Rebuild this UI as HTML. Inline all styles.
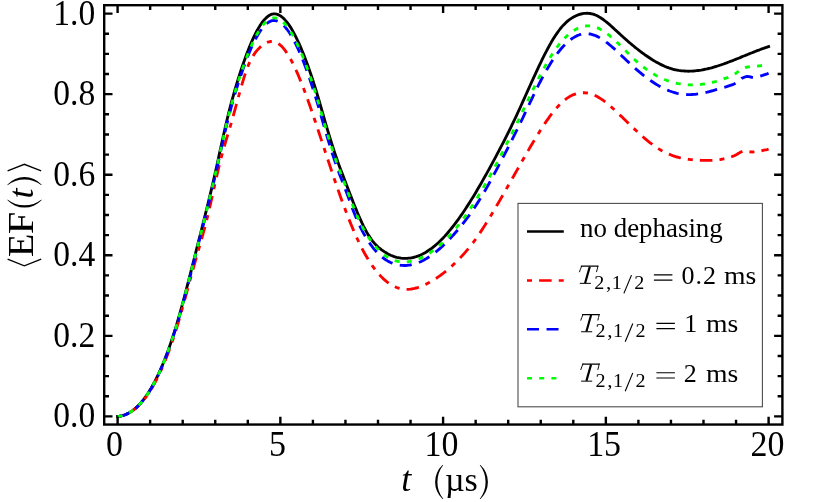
<!DOCTYPE html>
<html><head><meta charset="utf-8"><title>EF(t) dephasing plot</title>
<style>html,body{margin:0;padding:0;background:#fff;}svg{display:block;will-change:transform;}text{font-family:"Liberation Serif",serif;fill:#000;}</style></head>
<body>
<svg width="830" height="502" viewBox="0 0 830 502">
<rect x="0" y="0" width="830" height="502" fill="#fff"/>
<g fill="none" stroke-linejoin="round">
<path d="M117.6,416.4 L119.1,416.3 L120.6,416.0 L122.1,415.7 L123.6,415.3 L125.1,414.7 L126.6,414.1 L128.1,413.4 L129.6,412.5 L131.1,411.6 L132.6,410.6 L134.1,409.4 L135.6,408.1 L137.1,406.8 L138.6,405.3 L140.1,403.7 L141.6,402.0 L143.1,400.1 L144.6,398.2 L146.1,396.1 L147.6,393.9 L149.1,391.5 L150.6,389.1 L152.1,386.5 L153.6,383.8 L155.1,381.0 L156.6,378.0 L158.1,374.9 L159.6,371.6 L161.1,368.2 L162.6,364.7 L164.1,361.0 L165.6,357.2 L167.1,353.3 L168.6,349.2 L170.1,344.9 L171.6,340.5 L173.1,335.9 L174.6,331.2 L176.1,326.4 L177.6,321.4 L179.1,316.2 L180.6,310.9 L182.1,305.4 L183.6,299.9 L185.1,294.2 L186.6,288.4 L188.1,282.6 L189.6,276.8 L191.1,270.8 L192.6,264.9 L194.1,259.0 L195.6,253.1 L197.1,247.1 L198.6,241.2 L200.1,235.3 L201.6,229.4 L203.1,223.4 L204.6,217.4 L206.1,211.4 L207.6,205.3 L209.1,199.1 L210.6,192.8 L212.1,186.4 L213.6,180.0 L215.1,173.4 L216.6,166.7 L218.1,159.8 L219.6,152.9 L221.1,146.0 L222.6,139.2 L224.1,132.5 L225.6,125.9 L227.1,119.5 L228.6,113.3 L230.1,107.4 L231.6,101.7 L233.1,96.3 L234.6,91.0 L236.1,85.9 L237.6,80.9 L239.1,76.2 L240.6,71.5 L242.1,67.0 L243.6,62.6 L245.1,58.4 L246.6,54.3 L248.1,50.4 L249.6,46.6 L251.1,43.0 L252.6,39.6 L254.1,36.4 L255.6,33.4 L257.1,30.5 L258.6,27.9 L260.1,25.4 L261.6,23.2 L263.1,21.2 L264.6,19.4 L266.1,17.9 L267.6,16.6 L269.1,15.5 L270.6,14.7 L272.1,14.2 L273.6,13.9 L275.1,13.9 L276.6,14.2 L278.1,14.6 L279.6,15.4 L281.1,16.3 L282.6,17.5 L284.1,18.9 L285.6,20.6 L287.1,22.4 L288.6,24.4 L290.1,26.6 L291.6,29.1 L293.1,31.7 L294.6,34.4 L296.1,37.4 L297.6,40.5 L299.1,43.7 L300.6,47.1 L302.1,50.7 L303.6,54.4 L305.1,58.2 L306.6,62.2 L308.1,66.3 L309.6,70.6 L311.1,75.0 L312.6,79.5 L314.1,84.2 L315.6,89.0 L317.1,93.9 L318.6,99.0 L320.1,104.2 L321.6,109.4 L323.1,114.7 L324.6,119.9 L326.1,125.1 L327.6,130.1 L329.1,135.1 L330.6,140.0 L332.1,144.8 L333.6,149.4 L335.1,153.9 L336.6,158.3 L338.1,162.6 L339.6,166.7 L341.1,170.7 L342.6,174.6 L344.1,178.5 L345.6,182.4 L347.1,186.4 L348.6,190.3 L350.1,194.2 L351.6,198.1 L353.1,201.9 L354.6,205.7 L356.1,209.4 L357.6,213.0 L359.1,216.5 L360.6,219.9 L362.1,223.2 L363.6,226.3 L365.1,229.2 L366.6,232.0 L368.1,234.6 L369.6,236.9 L371.1,239.1 L372.6,241.1 L374.1,242.9 L375.6,244.6 L377.1,246.1 L378.6,247.5 L380.1,248.7 L381.6,249.9 L383.1,250.9 L384.6,251.9 L386.1,252.8 L387.6,253.7 L389.1,254.5 L390.6,255.2 L392.1,255.8 L393.6,256.4 L395.1,256.9 L396.6,257.3 L398.1,257.6 L399.6,257.9 L401.1,258.2 L402.6,258.3 L404.1,258.4 L405.6,258.4 L407.1,258.4 L408.6,258.2 L410.1,258.1 L411.6,257.8 L413.1,257.5 L414.6,257.1 L416.1,256.7 L417.6,256.2 L419.1,255.6 L420.6,255.0 L422.1,254.3 L423.6,253.5 L425.1,252.7 L426.6,251.8 L428.1,250.8 L429.6,249.8 L431.1,248.8 L432.6,247.6 L434.1,246.4 L435.6,245.2 L437.1,243.8 L438.6,242.5 L440.1,241.0 L441.6,239.5 L443.1,238.0 L444.6,236.4 L446.1,234.7 L447.6,233.0 L449.1,231.2 L450.6,229.4 L452.1,227.5 L453.6,225.6 L455.1,223.7 L456.6,221.6 L458.1,219.6 L459.6,217.5 L461.1,215.4 L462.6,213.2 L464.1,211.0 L465.6,208.7 L467.1,206.4 L468.6,204.1 L470.1,201.7 L471.6,199.3 L473.1,196.9 L474.6,194.4 L476.1,191.9 L477.6,189.3 L479.1,186.8 L480.6,184.2 L482.1,181.6 L483.6,178.9 L485.1,176.3 L486.6,173.6 L488.1,170.9 L489.6,168.2 L491.1,165.4 L492.6,162.6 L494.1,159.9 L495.6,157.1 L497.1,154.2 L498.6,151.4 L500.1,148.5 L501.6,145.7 L503.1,142.8 L504.6,139.8 L506.1,136.9 L507.6,133.9 L509.1,130.9 L510.6,127.8 L512.1,124.7 L513.6,121.6 L515.1,118.5 L516.6,115.3 L518.1,112.0 L519.6,108.8 L521.1,105.5 L522.6,102.2 L524.1,98.8 L525.6,95.5 L527.1,92.2 L528.6,88.8 L530.1,85.5 L531.6,82.2 L533.1,78.9 L534.6,75.6 L536.1,72.3 L537.6,69.1 L539.1,65.9 L540.6,62.8 L542.1,59.7 L543.6,56.7 L545.1,53.7 L546.6,50.8 L548.1,48.0 L549.6,45.3 L551.1,42.6 L552.6,40.1 L554.1,37.6 L555.6,35.3 L557.1,33.1 L558.6,31.0 L560.1,29.0 L561.6,27.1 L563.1,25.4 L564.6,23.9 L566.1,22.4 L567.6,21.1 L569.1,19.9 L570.6,18.9 L572.1,17.9 L573.6,17.0 L575.1,16.2 L576.6,15.5 L578.1,14.9 L579.6,14.4 L581.1,14.0 L582.6,13.6 L584.1,13.4 L585.6,13.3 L587.1,13.2 L588.6,13.3 L590.1,13.5 L591.6,13.8 L593.1,14.2 L594.6,14.7 L596.1,15.3 L597.6,16.0 L599.1,16.9 L600.6,17.8 L602.1,18.8 L603.6,19.8 L605.1,21.0 L606.6,22.2 L608.1,23.4 L609.6,24.7 L611.1,26.0 L612.6,27.4 L614.1,28.8 L615.6,30.2 L617.1,31.5 L618.6,32.9 L620.1,34.3 L621.6,35.7 L623.1,37.0 L624.6,38.3 L626.1,39.7 L627.6,41.0 L629.1,42.3 L630.6,43.5 L632.1,44.8 L633.6,46.0 L635.1,47.3 L636.6,48.5 L638.1,49.7 L639.6,50.8 L641.1,52.0 L642.6,53.1 L644.1,54.2 L645.6,55.3 L647.1,56.3 L648.6,57.3 L650.1,58.3 L651.6,59.3 L653.1,60.2 L654.6,61.1 L656.1,62.0 L657.6,62.8 L659.1,63.6 L660.6,64.4 L662.1,65.1 L663.6,65.8 L665.1,66.5 L666.6,67.1 L668.1,67.6 L669.6,68.2 L671.1,68.6 L672.6,69.1 L674.1,69.5 L675.6,69.8 L677.1,70.1 L678.6,70.4 L680.1,70.6 L681.6,70.8 L683.1,70.9 L684.6,71.0 L686.1,71.1 L687.6,71.2 L689.1,71.2 L690.6,71.1 L692.1,71.1 L693.6,71.0 L695.1,70.9 L696.6,70.7 L698.1,70.5 L699.6,70.3 L701.1,70.1 L702.6,69.8 L704.1,69.5 L705.6,69.2 L707.1,68.9 L708.6,68.5 L710.1,68.2 L711.6,67.8 L713.1,67.3 L714.6,66.9 L716.1,66.5 L717.6,66.0 L719.1,65.5 L720.6,65.0 L722.1,64.5 L723.6,64.0 L725.1,63.4 L726.6,62.9 L728.1,62.3 L729.6,61.7 L731.1,61.2 L732.6,60.6 L734.1,60.0 L735.6,59.4 L737.1,58.8 L738.6,58.2 L740.1,57.6 L741.6,56.9 L743.1,56.3 L744.6,55.7 L746.1,55.1 L747.6,54.5 L749.1,53.9 L750.6,53.3 L752.1,52.7 L753.6,52.1 L755.1,51.5 L756.6,50.9 L758.1,50.3 L759.6,49.8 L761.1,49.2 L762.6,48.7 L764.1,48.1 L765.6,47.6 L767.1,47.1 L768.6,46.6" stroke="#000" stroke-width="2.85" stroke-linecap="square"/>
<path d="M117.6,416.4 L119.1,416.3 L120.6,416.1 L122.1,415.7 L123.6,415.2 L125.1,414.7 L126.6,414.1 L128.1,413.4 L129.6,412.5 L131.1,411.6 L132.6,410.6 L134.1,409.5 L135.6,408.3 L137.1,407.0 L138.6,405.6 L140.1,404.0 L141.6,402.4 L143.1,400.7 L144.6,398.8 L146.1,396.8 L147.6,394.7 L149.1,392.5 L150.6,390.2 L152.1,387.7 L153.6,385.1 L155.1,382.4 L156.6,379.5 L158.1,376.5 L159.6,373.4 L161.1,370.2 L162.6,366.8 L164.1,363.2 L165.6,359.6 L167.1,355.7 L168.6,351.8 L170.1,347.7 L171.6,343.4 L173.1,339.0 L174.6,334.4 L176.1,329.7 L177.6,324.8 L179.1,319.7 L180.6,314.5 L182.1,309.2 L183.6,303.8 L185.1,298.3 L186.6,292.8 L188.1,287.2 L189.6,281.7 L191.1,276.2 L192.6,270.7 L194.1,265.3 L195.6,260.0 L197.1,254.7 L198.6,249.5 L200.1,244.3 L201.6,239.0 L203.1,233.7 L204.6,228.1 L206.1,222.3 L207.6,216.3 L209.1,209.9 L210.6,203.4 L212.1,196.8 L213.6,190.0 L215.1,183.3 L216.6,176.7 L218.1,170.2 L219.6,164.0 L221.1,158.0 L222.6,152.4 L224.1,147.0 L225.6,141.9 L227.1,136.8 L228.6,131.9 L230.1,126.8 L231.6,121.7 L233.1,116.4 L234.6,111.0 L236.1,105.5 L237.6,100.0 L239.1,94.5 L240.6,89.0 L242.1,83.8 L243.6,78.8 L245.1,74.1 L246.6,69.8 L248.1,65.9 L249.6,62.4 L251.1,59.4 L252.6,56.7 L254.1,54.3 L255.6,52.2 L257.1,50.4 L258.6,48.7 L260.1,47.2 L261.6,45.9 L263.1,44.7 L264.6,43.7 L266.1,42.9 L267.6,42.2 L269.1,41.8 L270.6,41.5 L272.1,41.4 L273.6,41.6 L275.1,42.0 L276.6,42.6 L278.1,43.4 L279.6,44.5 L281.1,45.8 L282.6,47.3 L284.1,49.1 L285.6,51.1 L287.1,53.3 L288.6,55.7 L290.1,58.3 L291.6,61.0 L293.1,64.0 L294.6,67.1 L296.1,70.3 L297.6,73.7 L299.1,77.2 L300.6,80.9 L302.1,84.6 L303.6,88.5 L305.1,92.5 L306.6,96.5 L308.1,100.7 L309.6,104.9 L311.1,109.2 L312.6,113.6 L314.1,118.0 L315.6,122.5 L317.1,127.0 L318.6,131.5 L320.1,136.1 L321.6,140.6 L323.1,145.2 L324.6,149.8 L326.1,154.4 L327.6,158.9 L329.1,163.4 L330.6,167.9 L332.1,172.4 L333.6,176.9 L335.1,181.3 L336.6,185.6 L338.1,189.9 L339.6,194.2 L341.1,198.4 L342.6,202.5 L344.1,206.6 L345.6,210.6 L347.1,214.5 L348.6,218.4 L350.1,222.1 L351.6,225.8 L353.1,229.4 L354.6,232.8 L356.1,236.2 L357.6,239.5 L359.1,242.7 L360.6,245.7 L362.1,248.6 L363.6,251.5 L365.1,254.2 L366.6,256.8 L368.1,259.3 L369.6,261.7 L371.1,264.0 L372.6,266.2 L374.1,268.2 L375.6,270.2 L377.1,272.1 L378.6,273.9 L380.1,275.5 L381.6,277.1 L383.1,278.6 L384.6,279.9 L386.1,281.2 L387.6,282.4 L389.1,283.5 L390.6,284.4 L392.1,285.3 L393.6,286.1 L395.1,286.8 L396.6,287.5 L398.1,288.0 L399.6,288.4 L401.1,288.8 L402.6,289.0 L404.1,289.2 L405.6,289.3 L407.1,289.3 L408.6,289.3 L410.1,289.2 L411.6,289.0 L413.1,288.7 L414.6,288.4 L416.1,288.0 L417.6,287.6 L419.1,287.1 L420.6,286.5 L422.1,285.9 L423.6,285.3 L425.1,284.6 L426.6,283.9 L428.1,283.1 L429.6,282.3 L431.1,281.4 L432.6,280.5 L434.1,279.6 L435.6,278.7 L437.1,277.7 L438.6,276.6 L440.1,275.6 L441.6,274.5 L443.1,273.3 L444.6,272.2 L446.1,271.0 L447.6,269.7 L449.1,268.4 L450.6,267.1 L452.1,265.8 L453.6,264.4 L455.1,263.0 L456.6,261.5 L458.1,260.0 L459.6,258.5 L461.1,256.9 L462.6,255.3 L464.1,253.6 L465.6,251.9 L467.1,250.1 L468.6,248.3 L470.1,246.5 L471.6,244.5 L473.1,242.6 L474.6,240.6 L476.1,238.5 L477.6,236.3 L479.1,234.2 L480.6,231.9 L482.1,229.6 L483.6,227.3 L485.1,224.9 L486.6,222.5 L488.1,220.1 L489.6,217.6 L491.1,215.2 L492.6,212.7 L494.1,210.1 L495.6,207.6 L497.1,205.0 L498.6,202.5 L500.1,199.9 L501.6,197.3 L503.1,194.7 L504.6,192.0 L506.1,189.4 L507.6,186.8 L509.1,184.1 L510.6,181.5 L512.1,178.8 L513.6,176.2 L515.1,173.5 L516.6,170.9 L518.1,168.2 L519.6,165.6 L521.1,162.9 L522.6,160.3 L524.1,157.7 L525.6,155.1 L527.1,152.5 L528.6,149.9 L530.1,147.3 L531.6,144.8 L533.1,142.2 L534.6,139.7 L536.1,137.3 L537.6,134.8 L539.1,132.4 L540.6,130.0 L542.1,127.7 L543.6,125.4 L545.1,123.1 L546.6,120.9 L548.1,118.8 L549.6,116.7 L551.1,114.7 L552.6,112.8 L554.1,110.9 L555.6,109.1 L557.1,107.4 L558.6,105.7 L560.1,104.2 L561.6,102.7 L563.1,101.4 L564.6,100.1 L566.1,98.9 L567.6,97.9 L569.1,96.9 L570.6,96.0 L572.1,95.3 L573.6,94.6 L575.1,94.1 L576.6,93.6 L578.1,93.2 L579.6,93.0 L581.1,92.8 L582.6,92.7 L584.1,92.7 L585.6,92.8 L587.1,93.0 L588.6,93.3 L590.1,93.7 L591.6,94.1 L593.1,94.7 L594.6,95.3 L596.1,96.0 L597.6,96.8 L599.1,97.7 L600.6,98.6 L602.1,99.6 L603.6,100.7 L605.1,101.8 L606.6,103.0 L608.1,104.3 L609.6,105.5 L611.1,106.8 L612.6,108.2 L614.1,109.5 L615.6,110.9 L617.1,112.3 L618.6,113.8 L620.1,115.2 L621.6,116.6 L623.1,118.1 L624.6,119.5 L626.1,121.0 L627.6,122.4 L629.1,123.9 L630.6,125.3 L632.1,126.8 L633.6,128.2 L635.1,129.6 L636.6,131.0 L638.1,132.4 L639.6,133.8 L641.1,135.2 L642.6,136.5 L644.1,137.8 L645.6,139.1 L647.1,140.4 L648.6,141.6 L650.1,142.8 L651.6,143.9 L653.1,145.0 L654.6,146.1 L656.1,147.2 L657.6,148.2 L659.1,149.1 L660.6,150.0 L662.1,150.9 L663.6,151.7 L665.1,152.4 L666.6,153.1 L668.1,153.8 L669.6,154.4 L671.1,155.0 L672.6,155.6 L674.1,156.1 L675.6,156.6 L677.1,157.0 L678.6,157.4 L680.1,157.8 L681.6,158.1 L683.1,158.4 L684.6,158.7 L686.1,158.9 L687.6,159.2 L689.1,159.4 L690.6,159.6 L692.1,159.7 L693.6,159.8 L695.1,160.0 L696.6,160.1 L698.1,160.1 L699.6,160.2 L701.1,160.3 L702.6,160.3 L704.1,160.3 L705.6,160.4 L707.1,160.4 L708.6,160.4 L710.1,160.3 L711.6,160.3 L713.1,160.2 L714.6,160.1 L716.1,160.0 L717.6,159.9 L719.1,159.7 L720.6,159.5 L722.1,159.2 L723.6,158.9 L725.1,158.6 L726.6,158.2 L728.1,157.8 L729.6,157.4 L731.1,156.9 L732.6,156.4 L734.1,155.8 L735.6,155.1 L737.1,154.2 L738.6,153.2 L740.1,152.4 L741.6,151.7 L743.1,151.1 L744.6,151.0 L746.1,151.2 L747.6,151.4 L749.1,151.7 L750.6,151.9 L752.1,152.0 L753.6,151.9 L755.1,151.8 L756.6,151.6 L758.1,151.3 L759.6,151.1 L761.1,150.8 L762.6,150.5 L764.1,150.2 L765.6,149.9 L767.1,149.6 L768.6,149.2" stroke="#ff0000" stroke-width="2.85" stroke-dasharray="5 7.1 12.55 7.1" stroke-dashoffset="-1.1"/>
<path d="M117.6,416.4 L119.1,416.3 L120.6,416.0 L122.1,415.7 L123.6,415.3 L125.1,414.8 L126.6,414.1 L128.1,413.4 L129.6,412.6 L131.1,411.7 L132.6,410.6 L134.1,409.5 L135.6,408.3 L137.1,406.9 L138.6,405.4 L140.1,403.8 L141.6,402.1 L143.1,400.3 L144.6,398.4 L146.1,396.3 L147.6,394.2 L149.1,391.9 L150.6,389.4 L152.1,386.9 L153.6,384.2 L155.1,381.4 L156.6,378.4 L158.1,375.3 L159.6,372.1 L161.1,368.7 L162.6,365.2 L164.1,361.6 L165.6,357.8 L167.1,353.9 L168.6,349.9 L170.1,345.7 L171.6,341.3 L173.1,336.8 L174.6,332.1 L176.1,327.3 L177.6,322.4 L179.1,317.3 L180.6,312.0 L182.1,306.6 L183.6,301.1 L185.1,295.5 L186.6,289.8 L188.1,284.1 L189.6,278.3 L191.1,272.4 L192.6,266.6 L194.1,260.7 L195.6,254.8 L197.1,249.0 L198.6,243.2 L200.1,237.3 L201.6,231.5 L203.1,225.6 L204.6,219.7 L206.1,213.7 L207.6,207.7 L209.1,201.6 L210.6,195.4 L212.1,189.1 L213.6,182.7 L215.1,176.2 L216.6,169.6 L218.1,162.9 L219.6,156.1 L221.1,149.3 L222.6,142.6 L224.1,135.9 L225.6,129.4 L227.1,123.2 L228.6,117.1 L230.1,111.3 L231.6,105.7 L233.1,100.3 L234.6,95.1 L236.1,90.1 L237.6,85.3 L239.1,80.6 L240.6,76.1 L242.1,71.7 L243.6,67.4 L245.1,63.3 L246.6,59.3 L248.1,55.5 L249.6,51.8 L251.1,48.3 L252.6,45.0 L254.1,41.9 L255.6,38.9 L257.1,36.2 L258.6,33.6 L260.1,31.3 L261.6,29.1 L263.1,27.2 L264.6,25.5 L266.1,24.1 L267.6,22.9 L269.1,21.9 L270.6,21.2 L272.1,20.7 L273.6,20.5 L275.1,20.6 L276.6,20.9 L278.1,21.4 L279.6,22.2 L281.1,23.2 L282.6,24.5 L284.1,25.9 L285.6,27.6 L287.1,29.5 L288.6,31.5 L290.1,33.8 L291.6,36.3 L293.1,38.9 L294.6,41.7 L296.1,44.7 L297.6,47.9 L299.1,51.2 L300.6,54.7 L302.1,58.3 L303.6,62.0 L305.1,65.9 L306.6,70.0 L308.1,74.2 L309.6,78.5 L311.1,83.0 L312.6,87.6 L314.1,92.3 L315.6,97.1 L317.1,102.1 L318.6,107.2 L320.1,112.4 L321.6,117.6 L323.1,122.9 L324.6,128.1 L326.1,133.2 L327.6,138.3 L329.1,143.2 L330.6,148.0 L332.1,152.8 L333.6,157.4 L335.1,161.8 L336.6,166.1 L338.1,170.3 L339.6,174.4 L341.1,178.3 L342.6,182.1 L344.1,186.0 L345.6,190.0 L347.1,194.0 L348.6,198.1 L350.1,202.2 L351.6,206.3 L353.1,210.2 L354.6,214.0 L356.1,217.7 L357.6,221.2 L359.1,224.5 L360.6,227.7 L362.1,230.6 L363.6,233.4 L365.1,236.0 L366.6,238.5 L368.1,240.9 L369.6,243.1 L371.1,245.2 L372.6,247.2 L374.1,249.1 L375.6,250.8 L377.1,252.5 L378.6,254.0 L380.1,255.4 L381.6,256.7 L383.1,257.9 L384.6,259.0 L386.1,260.0 L387.6,260.9 L389.1,261.7 L390.6,262.5 L392.1,263.1 L393.6,263.7 L395.1,264.2 L396.6,264.6 L398.1,264.9 L399.6,265.1 L401.1,265.3 L402.6,265.4 L404.1,265.5 L405.6,265.5 L407.1,265.4 L408.6,265.2 L410.1,265.0 L411.6,264.7 L413.1,264.3 L414.6,263.9 L416.1,263.4 L417.6,262.9 L419.1,262.3 L420.6,261.7 L422.1,260.9 L423.6,260.2 L425.1,259.3 L426.6,258.5 L428.1,257.5 L429.6,256.6 L431.1,255.5 L432.6,254.4 L434.1,253.3 L435.6,252.1 L437.1,250.9 L438.6,249.6 L440.1,248.3 L441.6,247.0 L443.1,245.6 L444.6,244.1 L446.1,242.7 L447.6,241.1 L449.1,239.6 L450.6,238.0 L452.1,236.4 L453.6,234.7 L455.1,233.0 L456.6,231.3 L458.1,229.5 L459.6,227.7 L461.1,225.9 L462.6,224.0 L464.1,222.1 L465.6,220.1 L467.1,218.1 L468.6,216.1 L470.1,214.0 L471.6,211.9 L473.1,209.7 L474.6,207.5 L476.1,205.2 L477.6,202.9 L479.1,200.5 L480.6,198.1 L482.1,195.6 L483.6,193.1 L485.1,190.5 L486.6,187.9 L488.1,185.2 L489.6,182.5 L491.1,179.8 L492.6,177.0 L494.1,174.2 L495.6,171.4 L497.1,168.6 L498.6,165.7 L500.1,162.9 L501.6,160.0 L503.1,157.1 L504.6,154.3 L506.1,151.4 L507.6,148.5 L509.1,145.5 L510.6,142.6 L512.1,139.6 L513.6,136.7 L515.1,133.7 L516.6,130.6 L518.1,127.6 L519.6,124.5 L521.1,121.4 L522.6,118.3 L524.1,115.2 L525.6,112.0 L527.1,108.9 L528.6,105.7 L530.1,102.5 L531.6,99.3 L533.1,96.2 L534.6,93.0 L536.1,89.9 L537.6,86.9 L539.1,83.9 L540.6,81.0 L542.1,78.1 L543.6,75.3 L545.1,72.6 L546.6,69.9 L548.1,67.4 L549.6,64.9 L551.1,62.5 L552.6,60.2 L554.1,58.0 L555.6,55.8 L557.1,53.8 L558.6,51.8 L560.1,50.0 L561.6,48.2 L563.1,46.5 L564.6,45.0 L566.1,43.5 L567.6,42.1 L569.1,40.8 L570.6,39.6 L572.1,38.5 L573.6,37.6 L575.1,36.7 L576.6,35.9 L578.1,35.3 L579.6,34.7 L581.1,34.3 L582.6,33.9 L584.1,33.7 L585.6,33.6 L587.1,33.6 L588.6,33.8 L590.1,34.0 L591.6,34.3 L593.1,34.8 L594.6,35.3 L596.1,35.9 L597.6,36.6 L599.1,37.4 L600.6,38.3 L602.1,39.2 L603.6,40.2 L605.1,41.2 L606.6,42.4 L608.1,43.5 L609.6,44.8 L611.1,46.0 L612.6,47.3 L614.1,48.6 L615.6,50.0 L617.1,51.4 L618.6,52.8 L620.1,54.2 L621.6,55.7 L623.1,57.1 L624.6,58.5 L626.1,60.0 L627.6,61.4 L629.1,62.8 L630.6,64.2 L632.1,65.6 L633.6,67.0 L635.1,68.3 L636.6,69.6 L638.1,70.9 L639.6,72.2 L641.1,73.4 L642.6,74.6 L644.1,75.8 L645.6,77.0 L647.1,78.1 L648.6,79.2 L650.1,80.3 L651.6,81.3 L653.1,82.3 L654.6,83.3 L656.1,84.2 L657.6,85.1 L659.1,86.0 L660.6,86.8 L662.1,87.6 L663.6,88.4 L665.1,89.1 L666.6,89.8 L668.1,90.4 L669.6,91.0 L671.1,91.5 L672.6,92.0 L674.1,92.5 L675.6,92.9 L677.1,93.3 L678.6,93.6 L680.1,93.9 L681.6,94.1 L683.1,94.3 L684.6,94.4 L686.1,94.5 L687.6,94.6 L689.1,94.6 L690.6,94.6 L692.1,94.5 L693.6,94.4 L695.1,94.3 L696.6,94.1 L698.1,93.9 L699.6,93.7 L701.1,93.4 L702.6,93.1 L704.1,92.8 L705.6,92.5 L707.1,92.2 L708.6,91.8 L710.1,91.4 L711.6,91.0 L713.1,90.6 L714.6,90.2 L716.1,89.7 L717.6,89.3 L719.1,88.8 L720.6,88.4 L722.1,87.9 L723.6,87.5 L725.1,87.1 L726.6,86.7 L728.1,86.2 L729.6,85.7 L731.1,85.2 L732.6,84.7 L734.1,84.0 L735.6,83.1 L737.1,82.1 L738.6,81.0 L740.1,79.6 L741.6,78.4 L743.1,77.7 L744.6,77.1 L746.1,76.7 L747.6,76.5 L749.1,76.7 L750.6,77.0 L752.1,77.4 L753.6,77.6 L755.1,77.5 L756.6,77.2 L758.1,76.8 L759.6,76.3 L761.1,75.8 L762.6,75.4 L764.1,74.9 L765.6,74.4 L767.1,73.9 L768.6,73.3" stroke="#0000ff" stroke-width="2.85" stroke-dasharray="12 7.53" stroke-dashoffset="-0.4"/>
<path d="M117.6,416.4 L119.1,416.3 L120.6,416.0 L122.1,415.7 L123.6,415.3 L125.1,414.7 L126.6,414.1 L128.1,413.4 L129.6,412.6 L131.1,411.6 L132.6,410.6 L134.1,409.5 L135.6,408.2 L137.1,406.8 L138.6,405.4 L140.1,403.8 L141.6,402.1 L143.1,400.2 L144.6,398.3 L146.1,396.2 L147.6,394.0 L149.1,391.7 L150.6,389.3 L152.1,386.7 L153.6,384.0 L155.1,381.2 L156.6,378.2 L158.1,375.1 L159.6,371.9 L161.1,368.5 L162.6,365.0 L164.1,361.4 L165.6,357.6 L167.1,353.7 L168.6,349.6 L170.1,345.4 L171.6,341.0 L173.1,336.5 L174.6,331.8 L176.1,327.0 L177.6,322.0 L179.1,316.8 L180.6,311.5 L182.1,306.1 L183.6,300.6 L185.1,295.0 L186.6,289.3 L188.1,283.5 L189.6,277.7 L191.1,271.8 L192.6,265.9 L194.1,260.0 L195.6,254.1 L197.1,248.3 L198.6,242.4 L200.1,236.5 L201.6,230.6 L203.1,224.7 L204.6,218.8 L206.1,212.8 L207.6,206.7 L209.1,200.6 L210.6,194.4 L212.1,188.1 L213.6,181.7 L215.1,175.1 L216.6,168.5 L218.1,161.7 L219.6,154.9 L221.1,148.1 L222.6,141.3 L224.1,134.6 L225.6,128.1 L227.1,121.8 L228.6,115.7 L230.1,109.8 L231.6,104.2 L233.1,98.8 L234.6,93.6 L236.1,88.5 L237.6,83.7 L239.1,78.9 L240.6,74.4 L242.1,69.9 L243.6,65.6 L245.1,61.4 L246.6,57.4 L248.1,53.6 L249.6,49.9 L251.1,46.3 L252.6,43.0 L254.1,39.8 L255.6,36.8 L257.1,34.0 L258.6,31.4 L260.1,29.0 L261.6,26.9 L263.1,24.9 L264.6,23.2 L266.1,21.7 L267.6,20.4 L269.1,19.4 L270.6,18.7 L272.1,18.2 L273.6,17.9 L275.1,17.9 L276.6,18.2 L278.1,18.7 L279.6,19.5 L281.1,20.5 L282.6,21.7 L284.1,23.1 L285.6,24.7 L287.1,26.6 L288.6,28.6 L290.1,30.9 L291.6,33.3 L293.1,35.9 L294.6,38.7 L296.1,41.7 L297.6,44.8 L299.1,48.0 L300.6,51.4 L302.1,55.0 L303.6,58.7 L305.1,62.5 L306.6,66.5 L308.1,70.6 L309.6,74.9 L311.1,79.3 L312.6,83.8 L314.1,88.4 L315.6,93.2 L317.1,98.2 L318.6,103.2 L320.1,108.4 L321.6,113.6 L323.1,118.9 L324.6,124.1 L326.1,129.2 L327.6,134.2 L329.1,139.2 L330.6,144.0 L332.1,148.7 L333.6,153.3 L335.1,157.8 L336.6,162.2 L338.1,166.4 L339.6,170.4 L341.1,174.4 L342.6,178.3 L344.1,182.1 L345.6,186.1 L347.1,190.1 L348.6,194.1 L350.1,198.2 L351.6,202.2 L353.1,206.1 L354.6,209.8 L356.1,213.5 L357.6,217.0 L359.1,220.3 L360.6,223.4 L362.1,226.3 L363.6,229.1 L365.1,231.7 L366.6,234.3 L368.1,236.6 L369.6,238.9 L371.1,241.1 L372.6,243.1 L374.1,245.0 L375.6,246.8 L377.1,248.4 L378.6,250.0 L380.1,251.5 L381.6,252.8 L383.1,254.1 L384.6,255.2 L386.1,256.2 L387.6,257.2 L389.1,258.0 L390.6,258.8 L392.1,259.5 L393.6,260.1 L395.1,260.6 L396.6,261.0 L398.1,261.3 L399.6,261.6 L401.1,261.7 L402.6,261.8 L404.1,261.9 L405.6,261.9 L407.1,261.8 L408.6,261.6 L410.1,261.4 L411.6,261.1 L413.1,260.7 L414.6,260.3 L416.1,259.8 L417.6,259.3 L419.1,258.7 L420.6,258.1 L422.1,257.4 L423.6,256.6 L425.1,255.8 L426.6,254.9 L428.1,254.0 L429.6,253.0 L431.1,252.0 L432.6,250.9 L434.1,249.8 L435.6,248.6 L437.1,247.4 L438.6,246.2 L440.1,244.9 L441.6,243.5 L443.1,242.1 L444.6,240.7 L446.1,239.2 L447.6,237.6 L449.1,236.1 L450.6,234.4 L452.1,232.8 L453.6,231.0 L455.1,229.3 L456.6,227.5 L458.1,225.6 L459.6,223.7 L461.1,221.7 L462.6,219.7 L464.1,217.6 L465.6,215.5 L467.1,213.4 L468.6,211.2 L470.1,209.0 L471.6,206.7 L473.1,204.4 L474.6,202.0 L476.1,199.6 L477.6,197.2 L479.1,194.7 L480.6,192.2 L482.1,189.7 L483.6,187.1 L485.1,184.5 L486.6,181.8 L488.1,179.2 L489.6,176.5 L491.1,173.8 L492.6,171.0 L494.1,168.2 L495.6,165.4 L497.1,162.6 L498.6,159.7 L500.1,156.8 L501.6,153.9 L503.1,151.0 L504.6,148.1 L506.1,145.1 L507.6,142.1 L509.1,139.1 L510.6,136.1 L512.1,133.1 L513.6,130.0 L515.1,127.0 L516.6,123.9 L518.1,120.8 L519.6,117.7 L521.1,114.6 L522.6,111.4 L524.1,108.3 L525.6,105.1 L527.1,102.0 L528.6,98.9 L530.1,95.7 L531.6,92.6 L533.1,89.5 L534.6,86.5 L536.1,83.4 L537.6,80.4 L539.1,77.5 L540.6,74.5 L542.1,71.7 L543.6,68.9 L545.1,66.1 L546.6,63.5 L548.1,60.9 L549.6,58.4 L551.1,56.0 L552.6,53.6 L554.1,51.4 L555.6,49.2 L557.1,47.2 L558.6,45.2 L560.1,43.3 L561.6,41.5 L563.1,39.8 L564.6,38.2 L566.1,36.7 L567.6,35.3 L569.1,34.0 L570.6,32.8 L572.1,31.6 L573.6,30.6 L575.1,29.7 L576.6,28.9 L578.1,28.1 L579.6,27.5 L581.1,27.0 L582.6,26.6 L584.1,26.2 L585.6,26.0 L587.1,25.9 L588.6,25.9 L590.1,25.9 L591.6,26.1 L593.1,26.4 L594.6,26.8 L596.1,27.3 L597.6,27.9 L599.1,28.6 L600.6,29.4 L602.1,30.3 L603.6,31.2 L605.1,32.2 L606.6,33.3 L608.1,34.5 L609.6,35.7 L611.1,36.9 L612.6,38.2 L614.1,39.6 L615.6,41.0 L617.1,42.4 L618.6,43.8 L620.1,45.3 L621.6,46.7 L623.1,48.2 L624.6,49.7 L626.1,51.2 L627.6,52.7 L629.1,54.2 L630.6,55.7 L632.1,57.2 L633.6,58.6 L635.1,60.0 L636.6,61.4 L638.1,62.7 L639.6,64.0 L641.1,65.2 L642.6,66.4 L644.1,67.6 L645.6,68.7 L647.1,69.8 L648.6,70.9 L650.1,71.9 L651.6,72.8 L653.1,73.7 L654.6,74.6 L656.1,75.5 L657.6,76.3 L659.1,77.0 L660.6,77.8 L662.1,78.5 L663.6,79.1 L665.1,79.7 L666.6,80.3 L668.1,80.8 L669.6,81.4 L671.1,81.8 L672.6,82.3 L674.1,82.7 L675.6,83.0 L677.1,83.4 L678.6,83.7 L680.1,83.9 L681.6,84.2 L683.1,84.4 L684.6,84.6 L686.1,84.7 L687.6,84.8 L689.1,84.9 L690.6,84.9 L692.1,84.9 L693.6,84.9 L695.1,84.9 L696.6,84.8 L698.1,84.7 L699.6,84.6 L701.1,84.4 L702.6,84.2 L704.1,84.0 L705.6,83.8 L707.1,83.5 L708.6,83.2 L710.1,82.9 L711.6,82.6 L713.1,82.2 L714.6,81.8 L716.1,81.4 L717.6,80.9 L719.1,80.5 L720.6,80.0 L722.1,79.4 L723.6,78.8 L725.1,78.3 L726.6,77.9 L728.1,77.4 L729.6,76.7 L731.1,76.1 L732.6,75.3 L734.1,74.4 L735.6,73.5 L737.1,72.4 L738.6,71.2 L740.1,69.9 L741.6,69.0 L743.1,68.3 L744.6,67.7 L746.1,67.3 L747.6,67.0 L749.1,66.8 L750.6,66.7 L752.1,66.6 L753.6,66.4 L755.1,66.3 L756.6,66.1 L758.1,66.0 L759.6,65.8 L761.1,65.6 L762.6,65.4 L764.1,65.1 L765.6,64.8 L767.1,64.5 L768.6,64.2" stroke="#00ff00" stroke-width="2.85" stroke-dasharray="5 7.19" stroke-dashoffset="0.0"/>
</g>
<g stroke="#000" stroke-width="2.4" fill="none">
<rect x="104.2" y="5.2" width="678.20" height="419.35"/>
<path d="M117.60,424.55v-7.7M117.60,5.2v7.7M150.15,424.55v-4.8M150.15,5.2v4.8M182.70,424.55v-4.8M182.70,5.2v4.8M215.25,424.55v-4.8M215.25,5.2v4.8M247.80,424.55v-4.8M247.80,5.2v4.8M280.35,424.55v-7.7M280.35,5.2v7.7M312.90,424.55v-4.8M312.90,5.2v4.8M345.45,424.55v-4.8M345.45,5.2v4.8M378.00,424.55v-4.8M378.00,5.2v4.8M410.55,424.55v-4.8M410.55,5.2v4.8M443.10,424.55v-7.7M443.10,5.2v7.7M475.65,424.55v-4.8M475.65,5.2v4.8M508.20,424.55v-4.8M508.20,5.2v4.8M540.75,424.55v-4.8M540.75,5.2v4.8M573.30,424.55v-4.8M573.30,5.2v4.8M605.85,424.55v-7.7M605.85,5.2v7.7M638.40,424.55v-4.8M638.40,5.2v4.8M670.95,424.55v-4.8M670.95,5.2v4.8M703.50,424.55v-4.8M703.50,5.2v4.8M736.05,424.55v-4.8M736.05,5.2v4.8M768.60,424.55v-7.7M768.60,5.2v7.7M104.2,416.40h8.3M782.4,416.40h-8.3M104.2,396.26h4.8M782.4,396.26h-4.8M104.2,376.12h4.8M782.4,376.12h-4.8M104.2,355.98h4.8M782.4,355.98h-4.8M104.2,335.84h8.3M782.4,335.84h-8.3M104.2,315.70h4.8M782.4,315.70h-4.8M104.2,295.56h4.8M782.4,295.56h-4.8M104.2,275.42h4.8M782.4,275.42h-4.8M104.2,255.28h8.3M782.4,255.28h-8.3M104.2,235.14h4.8M782.4,235.14h-4.8M104.2,215.00h4.8M782.4,215.00h-4.8M104.2,194.86h4.8M782.4,194.86h-4.8M104.2,174.72h8.3M782.4,174.72h-8.3M104.2,154.58h4.8M782.4,154.58h-4.8M104.2,134.44h4.8M782.4,134.44h-4.8M104.2,114.30h4.8M782.4,114.30h-4.8M104.2,94.16h8.3M782.4,94.16h-8.3M104.2,74.02h4.8M782.4,74.02h-4.8M104.2,53.88h4.8M782.4,53.88h-4.8M104.2,33.74h4.8M782.4,33.74h-4.8M104.2,13.60h8.3M782.4,13.60h-8.3"/>
</g>
<g font-size="34.8">
<text transform="translate(114.4,456.1) scale(0.975,1)" text-anchor="middle">0</text>
<text transform="translate(277.5,456.1) scale(0.975,1)" text-anchor="middle">5</text>
<text transform="translate(441.4,456.1) scale(0.975,1)" text-anchor="middle">10</text>
<text transform="translate(604.1,456.1) scale(0.975,1)" text-anchor="middle">15</text>
<text transform="translate(767.4,456.1) scale(0.975,1)" text-anchor="middle">20</text>
<text transform="translate(95.3,427.4) scale(0.965,1)" text-anchor="end">0.0</text>
<text transform="translate(95.3,346.8) scale(0.965,1)" text-anchor="end">0.2</text>
<text transform="translate(95.3,266.3) scale(0.965,1)" text-anchor="end">0.4</text>
<text transform="translate(95.3,185.7) scale(0.965,1)" text-anchor="end">0.6</text>
<text transform="translate(95.3,105.2) scale(0.965,1)" text-anchor="end">0.8</text>
<text transform="translate(95.3,24.6) scale(0.965,1)" text-anchor="end">1.0</text>
</g>
<g transform="translate(0,490.5)">
<text x="401.3" y="0" font-size="36" font-style="italic">t</text>
<path d="M442.50,-25.50A23.23,23.23 0 0 0 442.50,8.50L443.30,8.50A27.44,27.44 0 0 1 443.30,-25.50Z" fill="#000"/>
<text x="444.9" y="0.4" font-size="34">µs</text>
<path d="M480.50,-25.50A23.23,23.23 0 0 1 480.50,8.50L479.70,8.50A27.44,27.44 0 0 0 479.70,-25.50Z" fill="#000"/>
</g>
<g transform="translate(33,267) rotate(-90)">
<path d="M7.9,-25.4L1.1,-8.7L7.9,8.2" fill="none" stroke="#000" stroke-width="1.3" stroke-linejoin="miter"/>
<text transform="translate(10.1,0) scale(1.08,1)" x="0" y="0" font-size="35.3">E</text>
<text transform="translate(32.8,0) scale(1.15,1)" x="0" y="0" font-size="35.3">F</text>
<path d="M66.80,-25.50A23.23,23.23 0 0 0 66.80,8.50L67.60,8.50A27.44,27.44 0 0 1 67.60,-25.50Z" fill="#000"/>
<text x="68.4" y="0" font-size="36" font-style="italic">t</text>
<path d="M82.50,-25.50A23.23,23.23 0 0 1 82.50,8.50L81.70,8.50A27.44,27.44 0 0 0 81.70,-25.50Z" fill="#000"/>
<path d="M96.1,-25.4L102.7,-8.7L96.1,8.2" fill="none" stroke="#000" stroke-width="1.3" stroke-linejoin="miter"/>
</g>
<rect x="518" y="203.4" width="244.4" height="203.4" fill="#fff" stroke="#4d4d4d" stroke-width="1.1"/>
<g fill="none" stroke-width="2.6">
<path d="M527,231.5H563.8" stroke="#000"/>
<path d="M527,280.5H563.8" stroke="#ff0000" stroke-dasharray="5 7.1 12.55 7.1"/>
<path d="M527,329.2H563.8" stroke="#0000ff" stroke-dasharray="12 7.53"/>
<path d="M527,378.3H562" stroke="#00ff00" stroke-dasharray="5 7.19"/>
</g>
<text x="580.1" y="237" font-size="26.9">no dephasing</text>
<g transform="translate(0,283.8)"><g transform="translate(579.60,0)" stroke="#000" fill="none" stroke-linecap="round"><path d="M1.7,-17.55H18.3" stroke-width="1.25"/><path d="M2.0,-17.5C1.2,-15.6 0.4,-13.6 -0.1,-12.0M18.3,-17.7C17.9,-15.6 17.4,-13.6 17.0,-12.1" stroke-width="0.95"/><path d="M10.2,-17.2L5.5,-0.7" stroke-width="2.15" stroke-linecap="butt"/><path d="M0.6,-0.45H10.9" stroke-width="1.0"/></g><text transform="translate(594.30,4.9) scale(1.1,1)" font-size="18.3">2</text><text transform="translate(605.90,4.9) scale(1.15,1)" font-size="18.3">,</text><text transform="translate(611.80,4.9) scale(1.1,1)" font-size="18.3">1</text><text transform="translate(634.30,4.9) scale(1.1,1)" font-size="18.3">2</text><path d="M623.90,9.6L631.50,-8.7" stroke="#000" stroke-width="1.15" fill="none"/><path d="M653.9,-8.9h18.5M653.9,-3.6h18.5" stroke="#000" stroke-width="1.15" fill="none"/><text x="681.4" y="0" font-size="26">0</text><text x="695.4" y="0" font-size="26">.</text><text x="702.9" y="0" font-size="26">2</text><text x="724.0" y="0" font-size="26" textLength="32.3" lengthAdjust="spacingAndGlyphs">ms</text></g>
<g transform="translate(0,332.2)"><g transform="translate(580.90,0)" stroke="#000" fill="none" stroke-linecap="round"><path d="M1.7,-17.55H18.3" stroke-width="1.25"/><path d="M2.0,-17.5C1.2,-15.6 0.4,-13.6 -0.1,-12.0M18.3,-17.7C17.9,-15.6 17.4,-13.6 17.0,-12.1" stroke-width="0.95"/><path d="M10.2,-17.2L5.5,-0.7" stroke-width="2.15" stroke-linecap="butt"/><path d="M0.6,-0.45H10.9" stroke-width="1.0"/></g><text transform="translate(595.60,4.9) scale(1.1,1)" font-size="18.3">2</text><text transform="translate(607.20,4.9) scale(1.15,1)" font-size="18.3">,</text><text transform="translate(613.10,4.9) scale(1.1,1)" font-size="18.3">1</text><text transform="translate(635.60,4.9) scale(1.1,1)" font-size="18.3">2</text><path d="M625.20,9.6L632.80,-8.7" stroke="#000" stroke-width="1.15" fill="none"/><path d="M656.4,-8.9h18.5M656.4,-3.6h18.5" stroke="#000" stroke-width="1.15" fill="none"/><text x="684.3" y="0" font-size="26">1</text><text x="706.0" y="0" font-size="26" textLength="32.3" lengthAdjust="spacingAndGlyphs">ms</text></g>
<g transform="translate(0,381.6)"><g transform="translate(580.90,0)" stroke="#000" fill="none" stroke-linecap="round"><path d="M1.7,-17.55H18.3" stroke-width="1.25"/><path d="M2.0,-17.5C1.2,-15.6 0.4,-13.6 -0.1,-12.0M18.3,-17.7C17.9,-15.6 17.4,-13.6 17.0,-12.1" stroke-width="0.95"/><path d="M10.2,-17.2L5.5,-0.7" stroke-width="2.15" stroke-linecap="butt"/><path d="M0.6,-0.45H10.9" stroke-width="1.0"/></g><text transform="translate(595.60,4.9) scale(1.1,1)" font-size="18.3">2</text><text transform="translate(607.20,4.9) scale(1.15,1)" font-size="18.3">,</text><text transform="translate(613.10,4.9) scale(1.1,1)" font-size="18.3">1</text><text transform="translate(635.60,4.9) scale(1.1,1)" font-size="18.3">2</text><path d="M625.20,9.6L632.80,-8.7" stroke="#000" stroke-width="1.15" fill="none"/><path d="M656.4,-8.9h18.5M656.4,-3.6h18.5" stroke="#000" stroke-width="1.15" fill="none"/><text x="683.7" y="0" font-size="26">2</text><text x="706.0" y="0" font-size="26" textLength="32.3" lengthAdjust="spacingAndGlyphs">ms</text></g>
</svg></body></html>
